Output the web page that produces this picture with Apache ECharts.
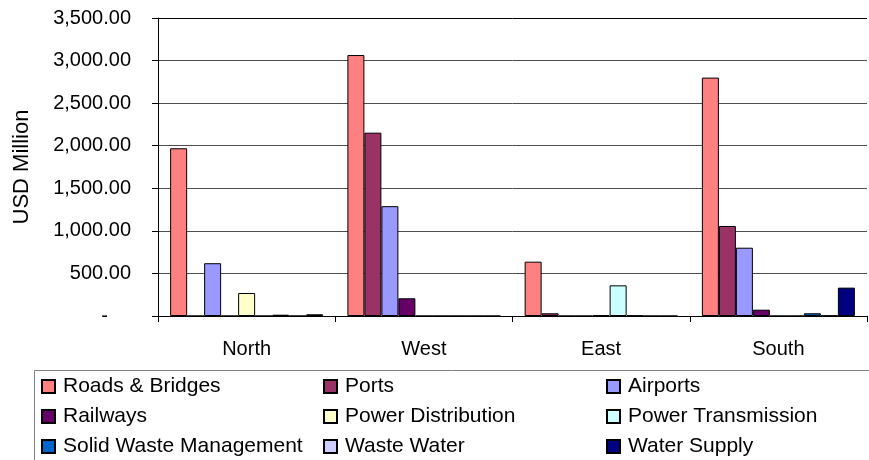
<!DOCTYPE html>
<html>
<head>
<meta charset="utf-8">
<script src="https://cdn.jsdelivr.net/npm/echarts@6/dist/echarts.min.js"></script>
<style>
  html, body { margin: 0; padding: 0; background: #ffffff; }
  #chart { width: 869px; height: 460px; }
</style>
</head>
<body>
<div id="chart"></div>
<script>
// Regions along the category axis
const regions = ['North', 'West', 'East', 'South'];

// Investment by sector, USD million, one value per region
const roadsBridges = [1970, 3065, 638, 2800];
const ports = [0, 2153, 32, 1057];
const airports = [620, 1290, 0, 802];
const railways = [0, 208, 0, 74];
const powerDistribution = [270, 0, 8, 0];
const powerTransmission = [0, 0, 360, 0];
const solidWasteManagement = [15, 0, 6, 32];
const wasteWater = [0, 0, 0, 5];
const waterSupply = [20, 0, 0, 333];

// Value axis ticks
const yTicks = [0, 500, 1000, 1500, 2000, 2500, 3000, 3500];

const sectors = [
  { name: 'Roads & Bridges', data: roadsBridges, color: '#FF8080' },
  { name: 'Ports', data: ports, color: '#993366' },
  { name: 'Airports', data: airports, color: '#9999FF' },
  { name: 'Railways', data: railways, color: '#660066' },
  { name: 'Power Distribution', data: powerDistribution, color: '#FFFFCC' },
  { name: 'Power Transmission', data: powerTransmission, color: '#CCFFFF' },
  { name: 'Solid Waste Management', data: solidWasteManagement, color: '#0066CC' },
  { name: 'Waste Water', data: wasteWater, color: '#CCCCFF' },
  { name: 'Water Supply', data: waterSupply, color: '#000080' }
];

const FONT = '"Liberation Sans", Arial, sans-serif';
const chart = echarts.init(document.getElementById('chart'), null, { renderer: 'canvas' });

function legendColumn(names, left) {
  return {
    data: names,
    orient: 'vertical',
    left: left,
    top: 376,
    padding: 0,
    itemWidth: 13,
    itemHeight: 13,
    itemGap: 9,
    icon: 'rect',
    selectedMode: false,
    textStyle: { fontFamily: FONT, fontSize: 21, color: '#000', lineHeight: 21, padding: [0, 0, 0, 3] }
  };
}

// gridlines are dark grey, the top one (3,500) closes the plot in black
const gridColors = yTicks.map(function (t, i) { return i === yTicks.length - 1 ? '#000' : '#4d4d4d'; });

const option = {
  animation: false,
  backgroundColor: '#ffffff',
  grid: { left: 158, right: 2, top: 18, bottom: 144 },
  legend: [
    legendColumn([sectors[0].name, sectors[3].name, sectors[6].name], 41),
    legendColumn([sectors[1].name, sectors[4].name, sectors[7].name], 323),
    legendColumn([sectors[2].name, sectors[5].name, sectors[8].name], 606)
  ],
  xAxis: {
    type: 'category',
    data: regions,
    axisLine: { lineStyle: { color: '#000', width: 1 } },
    axisTick: { show: true, length: 6, lineStyle: { color: '#000' } },
    axisLabel: { fontFamily: FONT, fontSize: 20, color: '#000', margin: 23 }
  },
  yAxis: {
    type: 'value',
    min: yTicks[0],
    max: yTicks[yTicks.length - 1],
    interval: yTicks[1] - yTicks[0],
    name: 'USD Million',
    nameLocation: 'middle',
    nameRotate: 90,
    nameGap: 125,
    nameTextStyle: { fontFamily: FONT, fontSize: 22, color: '#000' },
    axisLine: { show: true, lineStyle: { color: '#000', width: 1 } },
    axisTick: { show: true, length: 6, lineStyle: { color: '#000' } },
    splitLine: { show: true, lineStyle: { color: gridColors, width: 1 } },
    axisLabel: {
      fontFamily: FONT, fontSize: 20, color: '#000', margin: 27,
      formatter: function (v) {
        if (v === 0) return '{z|-}';
        return v.toLocaleString('en-US', { minimumFractionDigits: 2, maximumFractionDigits: 2 });
      },
      rich: { z: { fontFamily: FONT, fontSize: 20, color: '#000', padding: [0, 23, 0, 0] } }
    }
  },
  series: sectors.map(function (s) {
    return {
      name: s.name,
      type: 'bar',
      data: s.data,
      barWidth: 17,
      barGap: '0%',
      itemStyle: { color: s.color, borderColor: '#000', borderWidth: 1 }
    };
  }),
  graphic: [
    {
      type: 'rect',
      shape: { x: 34.5, y: 370.5, width: 900, height: 200 },
      style: { fill: 'none', stroke: '#808080', lineWidth: 1 },
      silent: true
    }
  ]
};

chart.setOption(option);
</script>
</body>
</html>
